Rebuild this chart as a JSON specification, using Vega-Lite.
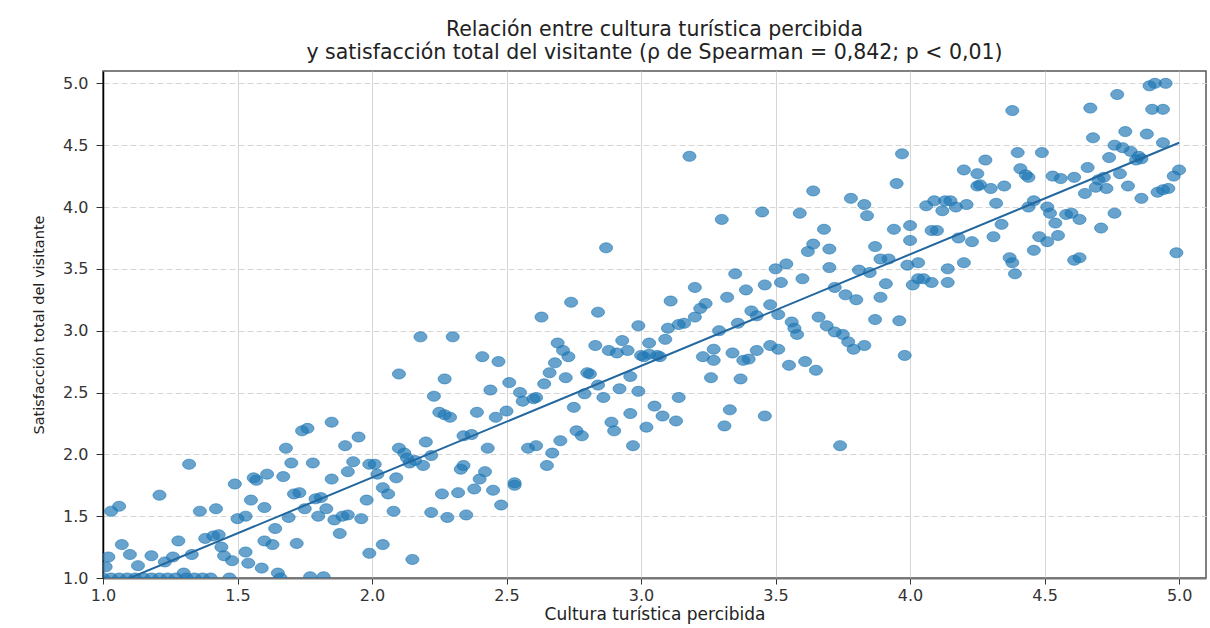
{
  "$schema": "https://vega.github.io/schema/vega-lite/v6.json",
  "width": 1103,
  "height": 507,
  "autosize": {"type": "none"},
  "padding": {"left": 103, "top": 71, "right": 4, "bottom": 50},
  "background": "white",
  "title": {
    "text": ["Relación entre cultura turística percibida", "y satisfacción total del visitante (ρ de Spearman = 0,842; p < 0,01)"],
    "font": "DejaVu Sans",
    "fontSize": 20.5,
    "fontWeight": "normal",
    "color": "#222222",
    "anchor": "middle",
    "offset": 8,
    "lineHeight": 23
  },
  "config": {
    "view": {"stroke": "#555555", "strokeWidth": 1.5}
  },
  "datasets": {
    "puntos": [
      {"cultura":1.03,"satisfaccion":1.54},{"cultura":1.06,"satisfaccion":1.58},{"cultura":1.21,"satisfaccion":1.67},{"cultura":1.32,"satisfaccion":1.92},
      {"cultura":1.07,"satisfaccion":1.27},{"cultura":1.02,"satisfaccion":1.17},{"cultura":1.10,"satisfaccion":1.19},{"cultura":1.13,"satisfaccion":1.10},
      {"cultura":1.18,"satisfaccion":1.18},{"cultura":1.01,"satisfaccion":1.09},{"cultura":1.23,"satisfaccion":1.13},{"cultura":1.26,"satisfaccion":1.17},
      {"cultura":1.28,"satisfaccion":1.30},{"cultura":1.33,"satisfaccion":1.19},{"cultura":1.36,"satisfaccion":1.54},{"cultura":1.42,"satisfaccion":1.56},
      {"cultura":1.38,"satisfaccion":1.32},{"cultura":1.41,"satisfaccion":1.34},{"cultura":1.43,"satisfaccion":1.35},{"cultura":1.44,"satisfaccion":1.25},
      {"cultura":1.45,"satisfaccion":1.18},{"cultura":1.48,"satisfaccion":1.14},{"cultura":1.30,"satisfaccion":1.04},{"cultura":1.49,"satisfaccion":1.76},
      {"cultura":1.50,"satisfaccion":1.48},{"cultura":1.53,"satisfaccion":1.50},{"cultura":1.53,"satisfaccion":1.21},{"cultura":1.54,"satisfaccion":1.12},
      {"cultura":1.55,"satisfaccion":1.63},{"cultura":1.56,"satisfaccion":1.81},{"cultura":1.57,"satisfaccion":1.79},{"cultura":1.61,"satisfaccion":1.84},
      {"cultura":1.67,"satisfaccion":1.82},{"cultura":1.59,"satisfaccion":1.08},{"cultura":1.60,"satisfaccion":1.30},{"cultura":1.60,"satisfaccion":1.57},
      {"cultura":1.63,"satisfaccion":1.27},{"cultura":1.64,"satisfaccion":1.40},{"cultura":1.65,"satisfaccion":1.04},{"cultura":1.68,"satisfaccion":2.05},
      {"cultura":1.69,"satisfaccion":1.49},{"cultura":1.70,"satisfaccion":1.93},{"cultura":1.71,"satisfaccion":1.68},{"cultura":1.73,"satisfaccion":1.69},
      {"cultura":1.72,"satisfaccion":1.28},{"cultura":1.74,"satisfaccion":2.19},{"cultura":1.76,"satisfaccion":2.21},{"cultura":1.75,"satisfaccion":1.56},
      {"cultura":1.78,"satisfaccion":1.93},{"cultura":1.79,"satisfaccion":1.64},{"cultura":1.81,"satisfaccion":1.65},{"cultura":1.80,"satisfaccion":1.50},
      {"cultura":1.83,"satisfaccion":1.56},{"cultura":1.85,"satisfaccion":1.80},{"cultura":1.85,"satisfaccion":2.26},{"cultura":1.88,"satisfaccion":1.36},
      {"cultura":1.86,"satisfaccion":1.47},{"cultura":1.89,"satisfaccion":1.50},{"cultura":1.91,"satisfaccion":1.51},{"cultura":1.90,"satisfaccion":2.07},
      {"cultura":1.93,"satisfaccion":1.94},{"cultura":1.95,"satisfaccion":2.14},{"cultura":1.91,"satisfaccion":1.86},{"cultura":1.96,"satisfaccion":1.48},
      {"cultura":1.98,"satisfaccion":1.63},{"cultura":1.99,"satisfaccion":1.20},{"cultura":1.99,"satisfaccion":1.92},{"cultura":1.77,"satisfaccion":1.01},
      {"cultura":1.82,"satisfaccion":1.01},
      {"cultura":1.00,"satisfaccion":1.0},{"cultura":1.03,"satisfaccion":1.0},{"cultura":1.06,"satisfaccion":1.0},{"cultura":1.09,"satisfaccion":1.0},
      {"cultura":1.12,"satisfaccion":1.0},{"cultura":1.15,"satisfaccion":1.0},{"cultura":1.18,"satisfaccion":1.0},{"cultura":1.21,"satisfaccion":1.0},
      {"cultura":1.24,"satisfaccion":1.0},{"cultura":1.27,"satisfaccion":1.0},{"cultura":1.31,"satisfaccion":1.0},{"cultura":1.34,"satisfaccion":1.0},
      {"cultura":1.37,"satisfaccion":1.0},{"cultura":1.40,"satisfaccion":1.0},{"cultura":1.47,"satisfaccion":1.0},{"cultura":1.66,"satisfaccion":1.0},
      {"cultura":2.23,"satisfaccion":2.47},{"cultura":2.25,"satisfaccion":2.34},{"cultura":2.27,"satisfaccion":2.32},{"cultura":2.29,"satisfaccion":2.30},
      {"cultura":2.01,"satisfaccion":1.92},{"cultura":2.02,"satisfaccion":1.84},{"cultura":2.09,"satisfaccion":1.81},{"cultura":2.04,"satisfaccion":1.73},
      {"cultura":2.06,"satisfaccion":1.68},{"cultura":2.08,"satisfaccion":1.54},{"cultura":2.10,"satisfaccion":2.05},{"cultura":2.12,"satisfaccion":2.01},
      {"cultura":2.13,"satisfaccion":1.97},{"cultura":2.14,"satisfaccion":1.93},{"cultura":2.16,"satisfaccion":1.95},{"cultura":2.19,"satisfaccion":1.91},
      {"cultura":2.20,"satisfaccion":2.10},{"cultura":2.22,"satisfaccion":1.99},{"cultura":2.15,"satisfaccion":1.15},{"cultura":2.04,"satisfaccion":1.27},
      {"cultura":2.22,"satisfaccion":1.53},{"cultura":2.26,"satisfaccion":1.68},{"cultura":2.28,"satisfaccion":1.49},{"cultura":2.32,"satisfaccion":1.69},
      {"cultura":2.33,"satisfaccion":1.88},{"cultura":2.34,"satisfaccion":1.91},{"cultura":2.35,"satisfaccion":1.51},{"cultura":2.34,"satisfaccion":2.15},
      {"cultura":2.37,"satisfaccion":2.16},{"cultura":2.38,"satisfaccion":1.72},{"cultura":2.40,"satisfaccion":1.80},{"cultura":2.42,"satisfaccion":1.86},
      {"cultura":2.43,"satisfaccion":2.05},{"cultura":2.39,"satisfaccion":2.34},{"cultura":2.45,"satisfaccion":1.71},{"cultura":2.46,"satisfaccion":2.30},
      {"cultura":2.48,"satisfaccion":1.59},{"cultura":2.50,"satisfaccion":2.35},{"cultura":2.53,"satisfaccion":1.77},{"cultura":2.53,"satisfaccion":1.75},
      {"cultura":2.44,"satisfaccion":2.52},{"cultura":2.55,"satisfaccion":2.50},{"cultura":2.56,"satisfaccion":2.43},{"cultura":2.60,"satisfaccion":2.45},
      {"cultura":2.61,"satisfaccion":2.46},{"cultura":2.58,"satisfaccion":2.05},{"cultura":2.61,"satisfaccion":2.07},{"cultura":2.65,"satisfaccion":1.91},
      {"cultura":2.67,"satisfaccion":2.01},{"cultura":2.70,"satisfaccion":2.11},{"cultura":2.75,"satisfaccion":2.38},{"cultura":2.76,"satisfaccion":2.19},
      {"cultura":2.78,"satisfaccion":2.15},{"cultura":2.79,"satisfaccion":2.49},{"cultura":2.86,"satisfaccion":2.46},{"cultura":2.89,"satisfaccion":2.26},
      {"cultura":2.90,"satisfaccion":2.19},{"cultura":2.92,"satisfaccion":2.53},{"cultura":2.96,"satisfaccion":2.33},{"cultura":2.97,"satisfaccion":2.07},
      {"cultura":2.99,"satisfaccion":2.51},
      {"cultura":2.10,"satisfaccion":2.65},{"cultura":2.18,"satisfaccion":2.95},{"cultura":2.30,"satisfaccion":2.95},{"cultura":2.27,"satisfaccion":2.61},
      {"cultura":2.41,"satisfaccion":2.79},{"cultura":2.47,"satisfaccion":2.75},{"cultura":2.51,"satisfaccion":2.58},{"cultura":2.63,"satisfaccion":3.11},
      {"cultura":2.74,"satisfaccion":3.23},{"cultura":2.84,"satisfaccion":3.15},{"cultura":2.87,"satisfaccion":3.67},{"cultura":2.99,"satisfaccion":3.04},
      {"cultura":2.69,"satisfaccion":2.90},{"cultura":2.71,"satisfaccion":2.84},{"cultura":2.73,"satisfaccion":2.79},{"cultura":2.68,"satisfaccion":2.74},
      {"cultura":2.66,"satisfaccion":2.66},{"cultura":2.64,"satisfaccion":2.57},{"cultura":2.72,"satisfaccion":2.62},{"cultura":2.80,"satisfaccion":2.66},
      {"cultura":2.81,"satisfaccion":2.65},{"cultura":2.83,"satisfaccion":2.88},{"cultura":2.88,"satisfaccion":2.84},{"cultura":2.91,"satisfaccion":2.82},
      {"cultura":2.93,"satisfaccion":2.92},{"cultura":2.95,"satisfaccion":2.84},{"cultura":2.96,"satisfaccion":2.63},{"cultura":3.00,"satisfaccion":2.80},
      {"cultura":2.84,"satisfaccion":2.56},
      {"cultura":3.11,"satisfaccion":3.24},{"cultura":3.24,"satisfaccion":3.22},{"cultura":3.22,"satisfaccion":3.18},{"cultura":3.20,"satisfaccion":3.11},
      {"cultura":3.16,"satisfaccion":3.06},{"cultura":3.14,"satisfaccion":3.05},{"cultura":3.10,"satisfaccion":3.02},{"cultura":3.09,"satisfaccion":2.93},
      {"cultura":3.03,"satisfaccion":2.90},{"cultura":3.03,"satisfaccion":2.81},{"cultura":3.06,"satisfaccion":2.80},{"cultura":3.07,"satisfaccion":2.79},
      {"cultura":3.01,"satisfaccion":2.79},{"cultura":3.29,"satisfaccion":3.00},{"cultura":3.36,"satisfaccion":3.06},{"cultura":3.41,"satisfaccion":3.16},
      {"cultura":3.43,"satisfaccion":3.12},{"cultura":3.48,"satisfaccion":3.21},{"cultura":3.51,"satisfaccion":3.13},{"cultura":3.56,"satisfaccion":3.07},
      {"cultura":3.57,"satisfaccion":3.02},{"cultura":3.58,"satisfaccion":2.97},{"cultura":3.27,"satisfaccion":2.85},{"cultura":3.27,"satisfaccion":2.76},
      {"cultura":3.23,"satisfaccion":2.79},{"cultura":3.26,"satisfaccion":2.62},{"cultura":3.34,"satisfaccion":2.82},{"cultura":3.37,"satisfaccion":2.61},
      {"cultura":3.38,"satisfaccion":2.76},{"cultura":3.40,"satisfaccion":2.77},{"cultura":3.43,"satisfaccion":2.84},{"cultura":3.48,"satisfaccion":2.88},
      {"cultura":3.51,"satisfaccion":2.85},{"cultura":3.55,"satisfaccion":2.72},{"cultura":3.61,"satisfaccion":2.75},{"cultura":3.65,"satisfaccion":2.68},
      {"cultura":3.66,"satisfaccion":3.11},{"cultura":3.69,"satisfaccion":3.04},{"cultura":3.72,"satisfaccion":2.99},{"cultura":3.75,"satisfaccion":2.97},
      {"cultura":3.77,"satisfaccion":2.91},{"cultura":3.79,"satisfaccion":2.85},{"cultura":3.83,"satisfaccion":2.88},{"cultura":3.76,"satisfaccion":3.29},
      {"cultura":3.80,"satisfaccion":3.25},{"cultura":3.89,"satisfaccion":3.27},{"cultura":3.87,"satisfaccion":3.09},{"cultura":3.96,"satisfaccion":3.08},
      {"cultura":3.98,"satisfaccion":2.80},{"cultura":3.74,"satisfaccion":2.07},{"cultura":3.14,"satisfaccion":2.46},{"cultura":3.05,"satisfaccion":2.39},
      {"cultura":3.08,"satisfaccion":2.31},{"cultura":3.13,"satisfaccion":2.27},{"cultura":3.02,"satisfaccion":2.22},{"cultura":3.33,"satisfaccion":2.36},
      {"cultura":3.31,"satisfaccion":2.23},{"cultura":3.46,"satisfaccion":2.31},{"cultura":3.32,"satisfaccion":3.27},
      {"cultura":3.18,"satisfaccion":4.41},{"cultura":3.30,"satisfaccion":3.90},{"cultura":3.45,"satisfaccion":3.96},{"cultura":3.64,"satisfaccion":4.13},
      {"cultura":3.59,"satisfaccion":3.95},{"cultura":3.78,"satisfaccion":4.07},{"cultura":3.83,"satisfaccion":4.02},{"cultura":3.84,"satisfaccion":3.93},
      {"cultura":3.97,"satisfaccion":4.43},{"cultura":3.95,"satisfaccion":4.19},{"cultura":3.68,"satisfaccion":3.82},{"cultura":3.64,"satisfaccion":3.70},
      {"cultura":3.62,"satisfaccion":3.64},{"cultura":3.70,"satisfaccion":3.66},{"cultura":3.87,"satisfaccion":3.68},{"cultura":3.94,"satisfaccion":3.82},
      {"cultura":4.00,"satisfaccion":3.85},{"cultura":4.00,"satisfaccion":3.73},{"cultura":3.89,"satisfaccion":3.58},{"cultura":3.92,"satisfaccion":3.58},
      {"cultura":3.99,"satisfaccion":3.53},{"cultura":3.70,"satisfaccion":3.51},{"cultura":3.81,"satisfaccion":3.49},{"cultura":3.85,"satisfaccion":3.47},
      {"cultura":3.54,"satisfaccion":3.54},{"cultura":3.50,"satisfaccion":3.50},{"cultura":3.35,"satisfaccion":3.46},{"cultura":3.52,"satisfaccion":3.39},
      {"cultura":3.46,"satisfaccion":3.37},{"cultura":3.39,"satisfaccion":3.33},{"cultura":3.60,"satisfaccion":3.42},{"cultura":3.20,"satisfaccion":3.35},
      {"cultura":3.72,"satisfaccion":3.35},{"cultura":3.91,"satisfaccion":3.38},{"cultura":4.01,"satisfaccion":3.37},
      {"cultura":4.08,"satisfaccion":3.81},{"cultura":4.10,"satisfaccion":3.81},{"cultura":4.18,"satisfaccion":3.75},{"cultura":4.23,"satisfaccion":3.72},
      {"cultura":4.31,"satisfaccion":3.76},{"cultura":4.03,"satisfaccion":3.55},{"cultura":4.03,"satisfaccion":3.42},{"cultura":4.05,"satisfaccion":3.42},
      {"cultura":4.08,"satisfaccion":3.39},{"cultura":4.14,"satisfaccion":3.39},{"cultura":4.14,"satisfaccion":3.50},{"cultura":4.20,"satisfaccion":3.55},
      {"cultura":4.37,"satisfaccion":3.59},{"cultura":4.38,"satisfaccion":3.55},{"cultura":4.39,"satisfaccion":3.46},{"cultura":4.46,"satisfaccion":3.65},
      {"cultura":4.48,"satisfaccion":3.76},{"cultura":4.51,"satisfaccion":3.72},{"cultura":4.55,"satisfaccion":3.77},{"cultura":4.61,"satisfaccion":3.57},
      {"cultura":4.63,"satisfaccion":3.59},{"cultura":4.71,"satisfaccion":3.83},{"cultura":4.99,"satisfaccion":3.63},
      {"cultura":4.38,"satisfaccion":4.78},{"cultura":4.67,"satisfaccion":4.80},{"cultura":4.77,"satisfaccion":4.91},{"cultura":4.89,"satisfaccion":4.98},
      {"cultura":4.91,"satisfaccion":5.00},{"cultura":4.95,"satisfaccion":5.00},{"cultura":4.90,"satisfaccion":4.79},{"cultura":4.94,"satisfaccion":4.79},
      {"cultura":4.68,"satisfaccion":4.56},{"cultura":4.80,"satisfaccion":4.61},{"cultura":4.88,"satisfaccion":4.59},{"cultura":4.94,"satisfaccion":4.52},
      {"cultura":4.76,"satisfaccion":4.50},{"cultura":4.79,"satisfaccion":4.48},{"cultura":4.82,"satisfaccion":4.45},{"cultura":4.85,"satisfaccion":4.41},
      {"cultura":4.86,"satisfaccion":4.39},{"cultura":4.74,"satisfaccion":4.40},{"cultura":4.84,"satisfaccion":4.38},{"cultura":5.00,"satisfaccion":4.30},
      {"cultura":4.98,"satisfaccion":4.25},{"cultura":4.78,"satisfaccion":4.27},{"cultura":4.81,"satisfaccion":4.17},{"cultura":4.96,"satisfaccion":4.15},
      {"cultura":4.94,"satisfaccion":4.14},{"cultura":4.92,"satisfaccion":4.12},{"cultura":4.86,"satisfaccion":4.07},{"cultura":4.66,"satisfaccion":4.32},
      {"cultura":4.72,"satisfaccion":4.24},{"cultura":4.70,"satisfaccion":4.22},{"cultura":4.69,"satisfaccion":4.16},{"cultura":4.73,"satisfaccion":4.15},
      {"cultura":4.65,"satisfaccion":4.11},{"cultura":4.61,"satisfaccion":4.24},{"cultura":4.56,"satisfaccion":4.23},{"cultura":4.53,"satisfaccion":4.25},
      {"cultura":4.58,"satisfaccion":3.94},{"cultura":4.60,"satisfaccion":3.95},{"cultura":4.63,"satisfaccion":3.90},{"cultura":4.76,"satisfaccion":3.95},
      {"cultura":4.49,"satisfaccion":4.44},{"cultura":4.40,"satisfaccion":4.44},{"cultura":4.41,"satisfaccion":4.31},{"cultura":4.43,"satisfaccion":4.26},
      {"cultura":4.44,"satisfaccion":4.24},{"cultura":4.28,"satisfaccion":4.38},{"cultura":4.20,"satisfaccion":4.30},{"cultura":4.25,"satisfaccion":4.27},
      {"cultura":4.26,"satisfaccion":4.18},{"cultura":4.25,"satisfaccion":4.17},{"cultura":4.30,"satisfaccion":4.15},{"cultura":4.35,"satisfaccion":4.17},
      {"cultura":4.32,"satisfaccion":4.03},{"cultura":4.46,"satisfaccion":4.05},{"cultura":4.44,"satisfaccion":4.00},{"cultura":4.51,"satisfaccion":4.00},
      {"cultura":4.52,"satisfaccion":3.95},{"cultura":4.54,"satisfaccion":3.87},{"cultura":4.06,"satisfaccion":4.01},{"cultura":4.09,"satisfaccion":4.05},
      {"cultura":4.13,"satisfaccion":4.05},{"cultura":4.15,"satisfaccion":4.05},{"cultura":4.12,"satisfaccion":3.97},{"cultura":4.17,"satisfaccion":4.00},
      {"cultura":4.21,"satisfaccion":4.02},{"cultura":4.34,"satisfaccion":3.86}
    ],
    "ajuste": [
      {"cultura": 1.0, "satisfaccion": 0.91},
      {"cultura": 5.0, "satisfaccion": 4.52}
    ]
  },
  "encoding": {
    "x": {
      "field": "cultura",
      "type": "quantitative",
      "title": "Cultura turística percibida",
      "scale": {"domain": [1, 5.1], "nice": false, "zero": false},
      "axis": {
        "values": [1, 1.5, 2, 2.5, 3, 3.5, 4, 4.5, 5],
        "format": ".1f",
        "labelFlush": false,
        "labelFont": "DejaVu Sans",
        "labelFontSize": 16,
        "labelColor": "#333333",
        "labelPadding": 3,
        "tickColor": "#333333",
        "tickSize": 6,
        "tickWidth": 1,
        "domainColor": "#777777",
        "domainWidth": 2,
        "grid": true,
        "gridColor": "#d6d6d6",
        "gridWidth": 1,
        "titleFont": "DejaVu Sans",
        "titleFontSize": 17,
        "titleFontWeight": "normal",
        "titleColor": "#222222",
        "titlePadding": 3
      }
    },
    "y": {
      "field": "satisfaccion",
      "type": "quantitative",
      "title": "Satisfacción total del visitante",
      "scale": {"domain": [1, 5.1], "nice": false, "zero": false},
      "axis": {
        "values": [1, 1.5, 2, 2.5, 3, 3.5, 4, 4.5, 5],
        "format": ".1f",
        "labelFlush": false,
        "labelFont": "DejaVu Sans",
        "labelFontSize": 16,
        "labelColor": "#333333",
        "labelPadding": 8,
        "tickColor": "#333333",
        "tickSize": 7,
        "tickWidth": 1,
        "domainColor": "#000000",
        "domainWidth": 1.5,
        "grid": true,
        "gridColor": "#d6d6d6",
        "gridWidth": 1,
        "gridDash": [6, 3],
        "titleFont": "DejaVu Sans",
        "titleFontSize": 14.5,
        "titleFontWeight": "normal",
        "titleColor": "#222222",
        "titlePadding": 16
      }
    }
  },
  "layer": [
    {
      "data": {"name": "puntos"},
      "mark": {
        "type": "point",
        "shape": "M-1.3,0A1.3,1,0,1,0,1.3,0A1.3,1,0,1,0,-1.3,0Z",
        "filled": true,
        "size": 100,
        "color": "#1f77b4",
        "fillOpacity": 0.68,
        "stroke": "#1f77b4",
        "strokeOpacity": 0.6,
        "strokeWidth": 1,
        "clip": true
      }
    },
    {
      "data": {"name": "ajuste"},
      "mark": {"type": "line", "color": "#22679f", "strokeWidth": 2, "clip": true}
    }
  ]
}
